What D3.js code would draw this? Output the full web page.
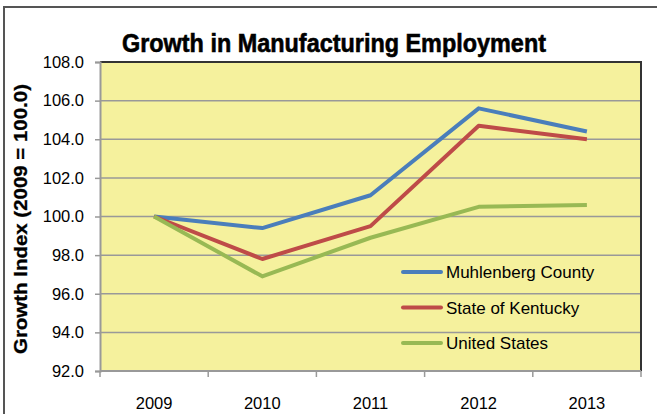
<!DOCTYPE html>
<html>
<head>
<meta charset="utf-8">
<script src="https://cdn.jsdelivr.net/npm/d3@7"></script>
<style>
  body { margin: 0; background: #fff; }
  text { font-family: "Liberation Sans", Arial, sans-serif; fill: #000; }
</style>
</head>
<body>
<div id="visualization"></div>
<script>
let w = 657;
let h = 414;

// data
let years = ["2009", "2010", "2011", "2012", "2013"];
let muhlenberg = [100.0, 99.4, 101.1, 105.6, 104.4];
let kentucky = [100.0, 97.8, 99.5, 104.7, 104.0];
let unitedStates = [100.0, 96.9, 98.9, 100.5, 100.6];
let seriesNames = ["Muhlenberg County", "State of Kentucky", "United States"];
let seriesColors = ["#4a7ebb", "#be4b48", "#98b954"];
let yTicks = [92, 94, 96, 98, 100, 102, 104, 106, 108];

let plot = {left: 100, right: 641, top: 62, bottom: 371};

let viz = d3.select("#visualization")
  .append("svg")
  .attr("width", w)
  .attr("height", h);

// outer chart border
viz.append("rect")
  .attr("x", 4).attr("y", 7)
  .attr("width", w + 20).attr("height", h + 20)
  .attr("fill", "none")
  .attr("stroke", "#555")
  .attr("stroke-width", 2);

let xScale = d3.scaleBand().domain(years).range([plot.left, plot.right]);
let yScale = d3.scaleLinear().domain([92, 108]).range([plot.bottom, plot.top]);

// plot background
viz.append("rect")
  .attr("x", plot.left).attr("y", plot.top)
  .attr("width", plot.right - plot.left)
  .attr("height", plot.bottom - plot.top)
  .attr("fill", "#f5f19d");

// gridlines
viz.selectAll(".grid").data(yTicks.slice(1, -1)).enter()
  .append("line")
  .attr("class", "grid")
  .attr("x1", plot.left).attr("x2", plot.right)
  .attr("y1", d => yScale(d)).attr("y2", d => yScale(d))
  .attr("stroke", "#999")
  .attr("stroke-width", 1.5);

// top and right frame (dark)
viz.append("path")
  .attr("d", "M" + plot.left + "," + plot.top + "H" + plot.right + "V" + plot.bottom)
  .attr("fill", "none")
  .attr("stroke", "#333")
  .attr("stroke-width", 2);

// y axis
let yAxis = d3.axisLeft(yScale).tickValues(yTicks).tickSize(5).tickFormat(d3.format(".1f"));
let yAxisGroup = viz.append("g")
  .attr("transform", "translate(" + plot.left + ",0)")
  .call(yAxis);
yAxisGroup.select(".domain").attr("stroke", "#999").attr("stroke-width", 2);
yAxisGroup.selectAll(".tick line").attr("stroke", "#999").attr("stroke-width", 1.5);
yAxisGroup.selectAll(".tick text")
  .attr("x", -16)
  .attr("font-size", 16.5)
  .style("font-family", "Liberation Sans, sans-serif");

// x axis: ticks at category boundaries
let xAxisGroup = viz.append("g")
  .attr("transform", "translate(0," + plot.bottom + ")");
xAxisGroup.append("line")
  .attr("x1", plot.left).attr("x2", plot.right)
  .attr("stroke", "#999").attr("stroke-width", 2);
let bounds = years.map(d => xScale(d)).concat([plot.right]);
xAxisGroup.selectAll(".xtick").data(bounds).enter()
  .append("line")
  .attr("x1", d => d).attr("x2", d => d)
  .attr("y1", 0).attr("y2", 6)
  .attr("stroke", "#999").attr("stroke-width", 1.5);
xAxisGroup.selectAll(".xlabel").data(years).enter()
  .append("text")
  .attr("x", d => xScale(d) + xScale.bandwidth() / 2)
  .attr("y", 38)
  .attr("text-anchor", "middle")
  .attr("font-size", 16.5)
  .style("font-family", "Liberation Sans, sans-serif")
  .text(d => d);

// lines
let allSeries = [muhlenberg, kentucky, unitedStates];
let line = d3.line()
  .x((d, i) => xScale(years[i]) + xScale.bandwidth() / 2)
  .y(d => yScale(d));
viz.selectAll(".series").data(allSeries).enter()
  .append("path")
  .attr("class", "series")
  .attr("d", d => line(d))
  .attr("fill", "none")
  .attr("stroke", (d, i) => seriesColors[i])
  .attr("stroke-width", 4)
  .attr("stroke-linejoin", "round");

// legend
let legend = viz.selectAll(".legend").data(seriesNames).enter()
  .append("g")
  .attr("class", "legend")
  .attr("transform", (d, i) => "translate(403," + (272 + i * 35.5) + ")");
legend.append("line")
  .attr("x1", 0).attr("x2", 38)
  .attr("stroke", (d, i) => seriesColors[i])
  .attr("stroke-width", 4)
  .attr("stroke-linecap", "round");
legend.append("text")
  .attr("x", 43).attr("y", 6)
  .attr("font-size", 17)
  .style("font-family", "Liberation Sans, sans-serif")
  .text(d => d);

// title
viz.append("text")
  .attr("x", 334).attr("y", 52)
  .attr("text-anchor", "middle")
  .attr("font-size", 26)
  .attr("font-weight", "bold")
  .attr("textLength", 424)
  .attr("lengthAdjust", "spacingAndGlyphs")
  .attr("stroke", "#000")
  .attr("stroke-width", 0.6)
  .style("font-family", "Liberation Sans, sans-serif")
  .text("Growth in Manufacturing Employment");

// y title
viz.append("text")
  .attr("transform", "translate(27,219) rotate(-90)")
  .attr("text-anchor", "middle")
  .attr("font-size", 18)
  .attr("font-weight", "bold")
  .attr("textLength", 270)
  .attr("lengthAdjust", "spacingAndGlyphs")
  .attr("stroke", "#000")
  .attr("stroke-width", 0.3)
  .style("font-family", "Liberation Sans, sans-serif")
  .text("Growth Index (2009 = 100.0)");
</script>
</body>
</html>
